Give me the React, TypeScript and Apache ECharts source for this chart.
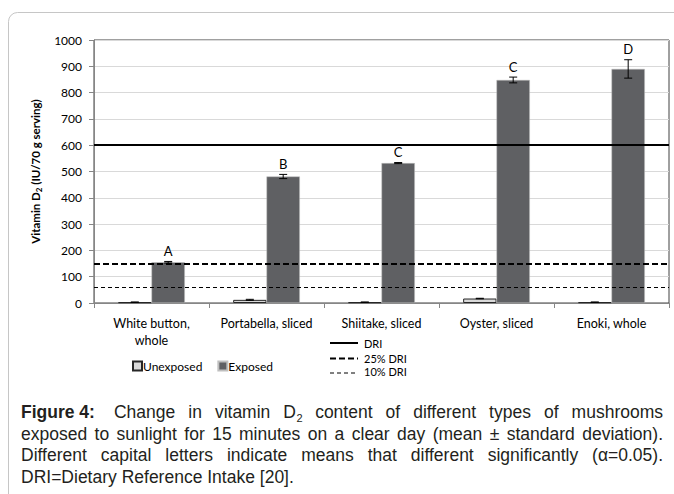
import React, { useEffect, useRef } from "react";
import * as echarts from "echarts";

const categories = ["White button,\nwhole", "Portabella, sliced", "Shiitake, sliced", "Oyster, sliced", "Enoki, whole"];
const unexposedValues = [3, 12, 3, 17, 3];
const unexposedSd = [1, 2, 1, 1, 1];
const exposedValues = [155, 481, 532, 848, 890];
const exposedSd = [3, 8, 2, 11, 35];
const letters = ["A", "B", "C", "C", "D"];
const refNames = ["DRI", "25% DRI", "10% DRI"];
const refValues = [600, 150, 60];
const yMin = 0;
const yMax = 1000;
const yInterval = 100;

const captionLines = [
  ["Figure 4:", "Change", "in", "vitamin", "D_2", "content", "of", "different", "types", "of", "mushrooms"],
  ["exposed", "to", "sunlight", "for", "15", "minutes", "on", "a", "clear", "day", "(mean", "±", "standard", "deviation)."],
  ["Different", "capital", "letters", "indicate", "means", "that", "different", "significantly", "(α=0.05)."],
  ["DRI=Dietary", "Reference", "Intake", "[20]."],
];

const CHART_FONT = "Lato";
const CAP_FONT = "Liberation Sans";
const CAP_SIZE = 17.5;
const SUB_SIZE = 11;

function buildCaption(): any[] {
  const canvas = document.createElement("canvas");
  const ctx = canvas.getContext("2d") as CanvasRenderingContext2D;
  const measure = (t: string, size: number, bold: boolean) => {
    ctx.font = `${bold ? "bold " : ""}${size}px "${CAP_FONT}"`;
    return ctx.measureText(t).width;
  };
  const left = 21;
  const right = 663;
  const top = 412;
  const gapY = 21.5;
  const els: any[] = [];
  captionLines.forEach((words, li) => {
    const y = top + li * gapY;
    const infos = words.map((w, wi) => {
      const bold = li === 0 && wi === 0;
      if (w === "D_2") {
        return { text: "D", sub: "2", width: measure("D", CAP_SIZE, false) + measure("2", SUB_SIZE, false), dw: measure("D", CAP_SIZE, false), bold };
      }
      return { text: w, sub: "", width: measure(w, CAP_SIZE, bold), dw: 0, bold };
    });
    const sum = infos.reduce((a, b) => a + b.width, 0);
    const justify = li < captionLines.length - 1;
    const natGap = measure(" ", CAP_SIZE, false);
    const extraFirst = li === 0 ? 6 : 0;
    const gap = justify ? Math.max(2, (right - left - sum - extraFirst) / (infos.length - 1)) : natGap;
    let x = left;
    infos.forEach((inf, wi) => {
      els.push({
        type: "text",
        x,
        y,
        silent: true,
        style: {
          text: inf.text,
          fill: "#231f20",
          fontFamily: CAP_FONT,
          fontSize: CAP_SIZE,
          fontWeight: inf.bold ? "bold" : "normal",
          verticalAlign: "middle",
          align: "left",
        },
      });
      if (inf.sub) {
        els.push({
          type: "text",
          x: x + inf.dw + 0.5,
          y: y + 5.5,
          silent: true,
          style: { text: inf.sub, fill: "#231f20", fontFamily: CAP_FONT, fontSize: SUB_SIZE, verticalAlign: "middle", align: "left" },
        });
      }
      x += inf.width + gap + (wi === 0 ? extraFirst : 0);
    });
  });
  return els;
}

const lineStyles: any[] = [
  { color: "#000", width: 2, type: "solid" },
  { color: "#000", width: 2, type: [6, 3] },
  { color: "#000", width: 1, type: [4, 3] },
];

function buildLineLegend(): any[] {
  const els: any[] = [];
  const ys = [343, 358.5, 373];
  refNames.forEach((n, i) => {
    const ls = lineStyles[i];
    els.push({
      type: "line",
      silent: true,
      shape: { x1: 330, y1: ys[i], x2: 358, y2: ys[i] },
      style: { stroke: ls.color, lineWidth: ls.width, lineDash: Array.isArray(ls.type) ? ls.type : null },
    });
    els.push({
      type: "text",
      silent: true,
      x: 364,
      y: ys[i] - (i === 2 ? 2 : 0),
      style: { text: n, fill: "#000", fontFamily: CHART_FONT, fontSize: 11, verticalAlign: "middle", align: "left" },
    });
  });
  return els;
}

export default function App() {
  const ref = useRef<HTMLDivElement>(null);
  useEffect(() => {
    if (!ref.current) return;
    const chart = echarts.init(ref.current, undefined, { renderer: "svg" });
    const barW = 0.29;

    const errSeries = (name: string, values: number[], sds: number[], side: number, withLetters: boolean) => ({
      type: "custom",
      name,
      z: 6,
      clip: false,
      silent: true,
      data: values.map((v, i) => [i, v, sds[i]]),
      renderItem: (params: any, api: any) => {
        const idx = api.value(0);
        const val = api.value(1);
        const sd = api.value(2);
        const band = api.size([1, 0])[0];
        const cx = api.coord([idx, 0])[0] + side * band * barW / 2;
        const yt = api.coord([idx, val + sd])[1];
        const yb = api.coord([idx, Math.max(0, val - sd)])[1];
        const cap = 4;
        const st = { stroke: "#000", lineWidth: 1 };
        const children: any[] = [
          { type: "line", shape: { x1: cx, y1: yt, x2: cx, y2: yb }, style: st },
          { type: "line", shape: { x1: cx - cap, y1: yt, x2: cx + cap, y2: yt }, style: st },
          { type: "line", shape: { x1: cx - cap, y1: yb, x2: cx + cap, y2: yb }, style: st },
        ];
        if (withLetters) {
          children.push({
            type: "text",
            x: cx,
            y: yt - 4,
            style: { text: letters[params.dataIndex], fill: "#000", fontFamily: CHART_FONT, fontSize: 13, align: "center", verticalAlign: "bottom" },
          });
        }
        return { type: "group", children };
      },
    });

    const option: any = {
      animation: false,
      backgroundColor: "#fff",
      textStyle: { fontFamily: CHART_FONT },
      grid: { left: 94, top: 40, right: 5, bottom: 191, show: true, borderColor: "#404040", borderWidth: 1 },
      legend: [
        {
          data: ["Unexposed", "Exposed"],
          left: 132,
          top: 360,
          padding: 0,
          orient: "horizontal",
          icon: "rect",
          itemWidth: 9,
          itemHeight: 9,
          itemGap: 15,
          selectedMode: false,
          textStyle: { fontSize: 12, color: "#000", fontFamily: CHART_FONT, padding: [0, 0, 0, -4] },
        },
      ],
      xAxis: {
        type: "category",
        data: categories,
        axisLine: { lineStyle: { color: "#868686" } },
        axisTick: { show: true, length: 5, lineStyle: { color: "#868686" } },
        axisLabel: { color: "#000", fontSize: 12.5, margin: 12, lineHeight: 17, fontFamily: CHART_FONT, interval: 0 },
        splitLine: { show: false },
      },
      yAxis: {
        type: "value",
        min: yMin,
        max: yMax,
        interval: yInterval,
        name: "Vitamin D{s|2} (IU/70 g serving)",
        nameLocation: "middle",
        nameGap: 47,
        nameTextStyle: {
          fontWeight: "bold",
          fontSize: 11.5,
          color: "#000",
          fontFamily: CHART_FONT,
          rich: { s: { fontWeight: "bold", fontSize: 8, color: "#000", fontFamily: CHART_FONT, verticalAlign: "bottom", padding: [7, 0, 0, 0] } },
        },
        axisLine: { show: true, lineStyle: { color: "#868686" } },
        axisTick: { show: true, length: 5, lineStyle: { color: "#868686" } },
        axisLabel: { color: "#000", fontSize: 12, margin: 12, fontFamily: CHART_FONT, formatter: (v: number) => String(v) },
        splitLine: { show: true, lineStyle: { color: "#d9d9d9", width: 1 } },
      },
      series: [
        {
          type: "bar",
          name: "Unexposed",
          data: unexposedValues,
          barWidth: "29%",
          barGap: "0%",
          itemStyle: { color: "#d9d9d9", borderColor: "#262626", borderWidth: 1 },
        },
        {
          type: "bar",
          name: "Exposed",
          data: exposedValues,
          barWidth: "29%",
          barGap: "0%",
          itemStyle: { color: "#5f6063", borderColor: "#bfbfbf", borderWidth: 0.5 },
        },
        ...refNames.map((n, i) => ({
          type: "line",
          name: n,
          data: [],
          symbol: "none",
          z: 4,
          lineStyle: lineStyles[i],
          markLine: {
            silent: true,
            symbol: ["none", "none"],
            label: { show: false },
            lineStyle: lineStyles[i],
            data: [{ yAxis: refValues[i] }],
          },
        })),
        errSeries("errU", unexposedValues, unexposedSd, -1, false),
        errSeries("errE", exposedValues, exposedSd, 1, true),
      ],
      graphic: [
        {
          type: "rect",
          silent: true,
          shape: { x: 8.5, y: 12.5, width: 720, height: 540, r: 9 },
          style: { fill: "none", stroke: "#c6c6c6", lineWidth: 1 },
          z: 100,
        },
        ...buildLineLegend(),
        ...buildCaption(),
      ],
    };
    chart.setOption(option);
    return () => chart.dispose();
  }, []);
  return <div ref={ref} style={{ position: "absolute", left: 0, top: 0, width: 674, height: 494 }} />;
}
